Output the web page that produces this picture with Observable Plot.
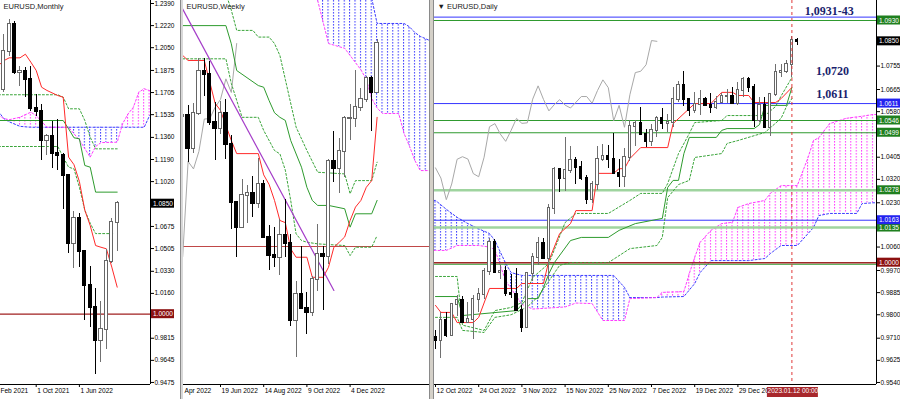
<!DOCTYPE html>
<html>
<head>
<meta charset="utf-8">
<script src="https://cdn.jsdelivr.net/npm/d3@7"></script>
<script src="https://cdn.jsdelivr.net/npm/@observablehq/plot@0.6"></script>
<style>
html,body{margin:0;padding:0;background:#fff;}
#chart{position:relative;width:900px;height:399px;overflow:hidden;background:#fff;}
.panel{position:absolute;top:0;height:399px;overflow:hidden;background:#fff;}
.sep{position:absolute;top:0;height:399px;box-sizing:border-box;}
</style>
</head>
<body>
<div id="chart"></div>
<script>
// ================= DATA =================
// ---- Monthly (index 0 = Apr 2021) : [open, high, low, close]
const monthlyOHLC = [
  [1.1728,1.2150,1.1704,1.2020],[1.2020,1.2266,1.1986,1.2228],[1.2228,1.2254,1.1847,1.1858],
  [1.1858,1.1909,1.1752,1.1870],[1.1870,1.1900,1.1664,1.1807],[1.1807,1.1909,1.1563,1.1579],
  [1.1579,1.1692,1.1524,1.1558],[1.1558,1.1616,1.1186,1.1338],[1.1338,1.1386,1.1222,1.1370],
  [1.1370,1.1483,1.1121,1.1234],[1.1234,1.1495,1.1106,1.1218],[1.1218,1.1233,1.0806,1.1067],
  [1.1067,1.1076,1.0470,1.0545],[1.0545,1.0787,1.0349,1.0733],[1.0733,1.0774,1.0359,1.0484],
  [1.0484,1.0486,0.9952,1.0220],[1.0220,1.0369,0.9901,1.0054],[1.0054,1.0198,0.9536,0.9801],
  [0.9801,1.0094,0.9632,0.9884],[0.9884,1.0497,0.9730,1.0405],[1.0405,1.0736,1.0393,1.0703],
  [1.0703,1.0868,1.0483,1.0850]
];
const monthlyTenkan = [[-1,1.1913],[0,1.1950],[1,1.1972],[3,1.1972],[4,1.2000],[5,1.1939],[6,1.1875],[7,1.1746],[8,1.1721],[10,1.1682],[11,1.1669],[12,1.1208],[13,1.1150],[14,1.1020],[15,1.0800],[16,1.0682],[17,1.0528],[18,1.0515],[19,1.0503],[20,1.0362],[21,1.0208]];
const monthlyKijun = [[-1,1.1490],[11,1.1490],[12,1.1426],[13,1.1357],[14,1.1349],[15,1.1144],[16,1.1131],[17,1.0939],[21,1.0939]];
const monthlyDotA = [[-1,1.1688],[10,1.1688],[11,1.1669],[12,1.1580],[14,1.1580],[15,1.1490],[16,1.1362],[17,1.1272],[21,1.1272]];
const monthlyDotB = [[-1,1.1290],[10,1.1290],[11,1.1208],[12,1.1131],[13,1.1118],[14,1.0977],[15,1.0800],[16,1.0700],[17,1.0620],[20.5,1.0620]];
// cloud: [index, spanA (blue), spanB (magenta)]
const monthlyKumo = [[-1,1.1560,1.1530],[0,1.1505,1.1505],[1,1.1480,1.1496],[3,1.1445,1.1515],[5,1.1438,1.1554],[6,1.1438,1.1528],[8,1.1438,1.1438],[12,1.1438,1.1438],[13,1.1438,1.1388],[14,1.1438,1.1340],[16,1.1438,1.1208],[17,1.1438,1.1290],[18,1.1438,1.1320],[21,1.1438,1.1323],[22,1.1438,1.1465],[23,1.1438,1.1540],[24,1.1438,1.1592],[25,1.1438,1.1708],[26,1.1438,1.1734],[27,1.1528,1.1720],[28,1.1550,1.1700]];
const monthlyLevels = [1.0000];
const monthlyLast = [1.0850];
const monthlyPriceTicks = [1.2390,1.2220,1.2050,1.1875,1.1705,1.1535,1.1360,1.1190,1.1020,1.0675,1.0505,1.0330,1.0160,0.9815,0.9645,0.9475];
const monthlyTimeTicks = [-2,6,14];
const monthlyTimeLabels = ["Feb 2021","1 Oct 2021","1 Jun 2022"];

// ---- Weekly (index 0 = week of 19 Jun 2022, first row = index -7)
const weeklyOHLC = [
  [1.0545,1.0642,1.0470,1.0550],[1.0550,1.0592,1.0350,1.0412],[1.0412,1.0600,1.0389,1.0559],
  [1.0559,1.0787,1.0550,1.0733],[1.0733,1.0787,1.0628,1.0719],[1.0719,1.0774,1.0505,1.0518],
  [1.0518,1.0601,1.0359,1.0495],[1.0495,1.0606,1.0470,1.0555],[1.0555,1.0615,1.0365,1.0427],
  [1.0427,1.0463,1.0072,1.0185],[1.0185,1.0187,0.9952,1.0081],[1.0081,1.0279,1.0078,1.0212],
  [1.0212,1.0254,1.0095,1.0220],[1.0220,1.0293,1.0123,1.0180],[1.0180,1.0369,1.0159,1.0260],
  [1.0260,1.0276,1.0034,1.0039],[1.0039,1.0090,0.9900,0.9964],[0.9964,1.0079,0.9910,0.9956],
  [0.9956,1.0113,0.9877,1.0044],[1.0044,1.0198,0.9956,1.0014],[1.0014,1.0050,0.9667,0.9690],
  [0.9690,0.9854,0.9536,0.9801],[0.9801,0.9999,0.9740,0.9740],[0.9740,0.9809,0.9632,0.9722],
  [0.9722,0.9875,0.9705,0.9860],[0.9860,1.0093,0.9810,0.9966],[0.9966,1.0000,0.9730,0.9958],
  [0.9958,1.0365,0.9926,1.0356],[1.0356,1.0481,1.0270,1.0325],[1.0325,1.0452,1.0223,1.0398],
  [1.0398,1.0545,1.0290,1.0534],[1.0534,1.0594,1.0443,1.0535],[1.0535,1.0736,1.0500,1.0583],
  [1.0583,1.0660,1.0565,1.0616],[1.0616,1.0713,1.0605,1.0702],[1.0702,1.0712,1.0483,1.0645],
  [1.0645,1.0868,1.0640,1.0850]
];
const weeklyFirstIndex = -7;
const weeklyTenkan = [[-7,1.0800],[-6,1.0779],[-3,1.0779],[-1,1.0600],[0,1.0570],[2,1.0444],[3,1.0389],[7,1.0389],[8,1.0300],[9,1.0260],[10,1.0193],[11,1.0109],[12,1.0100],[13,0.9990],[14,0.9955],[16,0.9955],[17,0.9871],[19,0.9871],[20,0.9913],[21,0.9997],[22,1.0018],[23,1.0040],[24,1.0109],[25,1.0165],[26,1.0193],[27,1.0248],[28,1.0276],[29,1.0541]];
const weeklyKijun = [[-7,1.0925],[1,1.0925],[2,1.0849],[3,1.0737],[7,1.0674],[8,1.0667],[9,1.0611],[10,1.0560],[11,1.0541],[12,1.0528],[13,1.0444],[15,1.0332],[16,1.0248],[17,1.0193],[18,1.0172],[20,1.0172],[23,1.0158],[24,1.0081],[25,1.0137],[28,1.0137],[29,1.0193]];
const weeklyDotA = [[1,1.1060],[2,1.0990],[3,1.0905],[6,1.0905],[7,1.0877],[9,1.0877],[10,1.0850],[11,1.0800],[12,1.0700],[14,1.0500],[16,1.0402],[18,1.0311],[23,1.0304],[24,1.0221],[25,1.0276],[28,1.0276],[29,1.0353]];
const weeklyDotB = [[-7,1.0786],[1,1.0786],[2,1.0683],[4,1.0541],[7,1.0541],[8,1.0486],[10,1.0402],[11,1.0388],[12,1.0320],[13,1.0193],[14,1.0053],[15,1.0025],[16,1.0018],[18,1.0011],[23,1.0004],[24,0.9962],[25,0.9997],[28,0.9997],[29,1.0046]];
const weeklyChikou = [0.9958,1.0356,1.0325,1.0398,1.0534,1.0535,1.0583,1.0616,1.0702,1.0645,1.0850];
const weeklyKumo = [[18,1.1150,1.1030],[20,1.1150,1.0850],[23,1.1150,1.0830],[25,1.1150,1.0770],[26,1.1150,1.0740],[27,1.1150,1.0700],[28,1.1040,1.0620],[29,1.0934,1.0580],[30,1.0934,1.0557],[33,1.0934,1.0557],[34,1.0934,1.0473],[35,1.0920,1.0420],[36,1.0896,1.0360],[37,1.0880,1.0318],[39,1.0860,1.0318]];
const weeklyTrend = [[-7,1.0994],[21,0.9816]];
const weeklyLevels = [1.0000];
const weeklyTimeTicks = [-8,0,8,16,24];
const weeklyTimeLabels = ["Apr 2022","19 Jun 2022","14 Aug 2022","9 Oct 2022","4 Dec 2022"];

// ---- Daily (index 0 = 12 Oct 2022, trading days)
const dailyOHLC = [
  [0.9712,0.9740,0.9668,0.9703],[0.9703,0.9809,0.9632,0.9778],[0.9778,0.9807,0.9711,0.9722],
  [0.9722,0.9843,0.9715,0.9838],[0.9838,0.9875,0.9792,0.9856],[0.9856,0.9872,0.9767,0.9771],
  [0.9771,0.9847,0.9770,0.9780],[0.9780,0.9873,0.9705,0.9860],[0.9860,0.9899,0.9810,0.9877],
  [0.9877,0.9977,0.9860,0.9965],[0.9965,1.0093,0.9950,1.0078],[1.0078,1.0089,0.9960,0.9963],
  [0.9963,0.9990,0.9935,0.9966],[0.9966,0.9984,0.9870,0.9883],[0.9883,0.9953,0.9862,0.9876],
  [0.9876,0.9976,0.9815,0.9818],[0.9818,0.9837,0.9730,0.9750],[0.9750,0.9960,0.9747,0.9958],
  [0.9958,1.0034,0.9926,1.0020],[1.0020,1.0096,0.9990,1.0074],[1.0074,1.0094,1.0015,1.0015],
  [1.0015,1.0222,0.9935,1.0208],[1.0208,1.0365,1.0186,1.0356],[1.0356,1.0362,1.0270,1.0325],
  [1.0325,1.0481,1.0273,1.0354],[1.0354,1.0447,1.0341,1.0393],[1.0393,1.0405,1.0300,1.0364],
  [1.0364,1.0390,1.0315,1.0325],[1.0325,1.0333,1.0223,1.0242],[1.0242,1.0310,1.0226,1.0302],
  [1.0302,1.0448,1.0279,1.0397],[1.0397,1.0452,1.0388,1.0407],[1.0407,1.0449,1.0360,1.0398],
  [1.0398,1.0497,1.0340,1.0342],[1.0342,1.0398,1.0290,1.0330],[1.0330,1.0440,1.0290,1.0405],
  [1.0405,1.0545,1.0390,1.0522],[1.0522,1.0545,1.0445,1.0534],[1.0534,1.0594,1.0491,1.0494],
  [1.0494,1.0510,1.0443,1.0466],[1.0466,1.0530,1.0448,1.0508],[1.0508,1.0563,1.0480,1.0554],
  [1.0554,1.0591,1.0513,1.0535],[1.0535,1.0568,1.0500,1.0537],[1.0537,1.0673,1.0520,1.0628],
  [1.0628,1.0694,1.0616,1.0679],[1.0679,1.0736,1.0600,1.0627],[1.0627,1.0630,1.0560,1.0583],
  [1.0583,1.0655,1.0574,1.0607],[1.0607,1.0660,1.0565,1.0626],[1.0626,1.0634,1.0600,1.0605],
  [1.0605,1.0650,1.0573,1.0594],[1.0594,1.0638,1.0587,1.0616],[1.0616,1.0648,1.0613,1.0638],
  [1.0638,1.0666,1.0613,1.0638],[1.0638,1.0673,1.0610,1.0612],[1.0612,1.0690,1.0605,1.0661],
  [1.0661,1.0713,1.0633,1.0702],[1.0702,1.0712,1.0652,1.0672],[1.0672,1.0685,1.0519,1.0545],
  [1.0545,1.0633,1.0540,1.0604],[1.0604,1.0636,1.0524,1.0520],[1.0520,1.0650,1.0483,1.0645],
  [1.0645,1.0760,1.0640,1.0730],[1.0730,1.0760,1.0711,1.0735],[1.0735,1.0777,1.0727,1.0760],
  [1.0760,1.0868,1.0711,1.0853],[1.0853,1.0860,1.0835,1.0850]
];
const dailyTenkan = [[0,0.9836],[1,0.9809],[3,0.9809],[4,0.9770],[7,0.9770],[8,0.9790],[10,0.9901],[15,0.9901],[16,0.9920],[20,0.9920],[21,1.0008],[23,1.0112],[25,1.0150],[26,1.0200],[29,1.0200],[30,1.0343],[33,1.0343],[34,1.0361],[35,1.0361],[36,1.0400],[38,1.0442],[43,1.0442],[44,1.0534],[47,1.0592],[48,1.0611],[51,1.0611],[53,1.0654],[55,1.0654],[56,1.0642],[58,1.0642],[59,1.0615],[63,1.0615],[64,1.0630],[66,1.0673]];
const dailyKijun = [[0,0.9870],[4,0.9870],[5,0.9797],[15,0.9816],[17,0.9862],[19,0.9862],[20,0.9905],[21,0.9958],[22,1.0000],[25,1.0085],[27,1.0097],[32,1.0097],[34,1.0124],[37,1.0150],[41,1.0166],[42,1.0170],[43,1.0289],[44,1.0316],[45,1.0316],[46,1.0419],[47,1.0481],[52,1.0481],[53,1.0508],[54,1.0515],[59,1.0515],[60,1.0530],[61,1.0604],[65,1.0604],[66,1.0673]];
const dailyDotA = [[0,0.9947],[4,0.9947],[5,0.9760],[9,0.9740],[11,0.9816],[14,0.9828],[16,0.9847],[18,0.9943],[21,0.9997],[24,1.0154],[26,1.0189],[32,1.0189],[36,1.0239],[38,1.0266],[42,1.0266],[43,1.0304],[45,1.0419],[47,1.0496],[48,1.0538],[53,1.0546],[54,1.0565],[61,1.0565],[63,1.0600],[64,1.0640],[66,1.0711]];
const dailyDotB = [[0,0.9790],[4,0.9790],[5,0.9740],[9,0.9732],[11,0.9790],[14,0.9800],[17,0.9830],[19,0.9870],[21,0.9930],[23,0.9990],[25,1.0000],[32,1.0000],[36,1.0054],[41,1.0066],[42,1.0097],[43,1.0250],[45,1.0300],[47,1.0316],[48,1.0404],[53,1.0419],[54,1.0458],[56,1.0469],[61,1.0500],[64,1.0554],[65,1.0600],[66,1.0630]];
const dailyChikou = [1.0364,1.0325,1.0242,1.0302,1.0397,1.0407,1.0398,1.0342,1.0330,1.0405,1.0522,1.0534,1.0494,1.0466,1.0508,1.0554,1.0535,1.0537,1.0628,1.0679,1.0627,1.0583,1.0607,1.0626,1.0605,1.0594,1.0616,1.0638,1.0638,1.0612,1.0661,1.0702,1.0672,1.0545,1.0604,1.0520,1.0645,1.0730,1.0735,1.0760,1.0853,1.0850];
const dailyKumo = [[-1,1.0239,1.0047],[0,1.0239,1.0047],[2,1.0205,1.0047],[4,1.0174,1.0066],[6,1.0150,1.0066],[8,1.0130,1.0066],[10,1.0112,1.0060],[11,1.0085,1.0050],[13,0.9997,0.9930],[14,0.9962,0.9901],[16,0.9951,0.9840],[18,0.9951,0.9822],[24,0.9951,0.9830],[26,0.9951,0.9845],[29,0.9951,0.9843],[31,0.9951,0.9778],[33,0.9951,0.9778],[35,0.9905,0.9778],[36,0.9866,0.9862],[41,0.9866,0.9866],[42,0.9868,0.9886],[46,0.9870,0.9889],[47,0.9895,0.9958],[48,0.9920,1.0020],[49,0.9962,1.0078],[51,1.0008,1.0124],[53,1.0008,1.0150],[55,1.0008,1.0155],[56,1.0008,1.0212],[58,1.0008,1.0227],[61,1.0016,1.0239],[62,1.0035,1.0266],[64,1.0066,1.0296],[67,1.0066,1.0296],[69,1.0112,1.0404],[70,1.0135,1.0469],[71,1.0181,1.0480],[73,1.0189,1.0534],[76,1.0189,1.0554],[78,1.0189,1.0560],[79,1.0227,1.0562],[81,1.0230,1.0569],[82,1.0230,1.0569]];
const dailyBlueLevels = [1.0943, 1.0611, 1.0163];
const dailyGreenLevels = [1.0930, 1.0546, 1.0499, 0.9994];
const dailyLightGreenLevels = [1.0278, 1.0135];
const dailyRedLevels = [1.0000];
const dailyBlueBoxes = [1.0611, 1.0163];
const dailyGreenBoxes = [1.0930, 1.0546, 1.0499, 1.0278, 1.0135];
const dailyLast = [1.0850];
const dailyPriceTicks = [1.0755,1.0665,1.0580,1.0405,1.0320,1.0230,1.0060,0.9970,0.9885,0.9800,0.9710,0.9625,0.9540];
const dailyTimeTicks = [0,8,16,24,32,40,48,56];
const dailyTimeLabels = ["12 Oct 2022","24 Oct 2022","3 Nov 2022","15 Nov 2022","25 Nov 2022","7 Dec 2022","19 Dec 2022","29 Dec 20"];
const dailyCursor = [66];
const dailyCursorLabel = "2023.01.12 00:00";
const dailyNotes = ["1,0931-43", "1,0720", "1,0611"];
const dailyNoteLevels = [1.0937, 1.0720, 1.0611];

// ================= RENDERING =================
const FONT = "'Liberation Sans', Arial, Helvetica, sans-serif";
const fmt4 = d3.format(".4f");
const svgNS = "http://www.w3.org/2000/svg";
const root = document.getElementById("chart");

// hatch patterns for the Ichimoku cloud (vertical dotted lines)
const defsSvg = document.createElementNS(svgNS, "svg");
defsSvg.setAttribute("width", "0"); defsSvg.setAttribute("height", "0");
defsSvg.style.position = "absolute";
const defs = document.createElementNS(svgNS, "defs");
defsSvg.appendChild(defs);
document.body.appendChild(defsSvg);
function addHatch(id, color, x0) {
  const p = document.createElementNS(svgNS, "pattern");
  p.setAttribute("id", id);
  p.setAttribute("patternUnits", "userSpaceOnUse");
  p.setAttribute("x", x0); p.setAttribute("y", 0);
  p.setAttribute("width", 5.4); p.setAttribute("height", 3);
  const r = document.createElementNS(svgNS, "rect");
  r.setAttribute("x", 0); r.setAttribute("y", 0);
  r.setAttribute("width", 1); r.setAttribute("height", 1.6);
  r.setAttribute("fill", color);
  p.appendChild(r); defs.appendChild(p);
}
const BLUE = "#3c3cff", MAG = "#ff3cff";
addHatch("hbM", BLUE, 2.8); addHatch("hmM", MAG, 2.8);
addHatch("hbW", BLUE, 4.1); addHatch("hmW", MAG, 4.1);
addHatch("hbD", BLUE, 0.5); addHatch("hmD", MAG, 0.5);

function rows(ohlc, start) {
  return ohlc.map((r, k) => ({t: start + k, o: r[0], h: r[1], l: r[2], c: r[3]}));
}
function candleMarks(data, half) {
  const up = d => d.c >= d.o, dn = d => d.c < d.o;
  return [
    Plot.ruleX(data, {filter: up, x: "t", y1: "l", y2: "h", stroke: "#707070", strokeWidth: 1, shapeRendering: "crispEdges"}),
    Plot.ruleX(data, {filter: dn, x: "t", y1: "l", y2: "h", stroke: "#000", strokeWidth: 1, shapeRendering: "crispEdges"}),
    Plot.rect(data, {filter: up, x1: d => d.t - half, x2: d => d.t + half, y1: "o", y2: "c", insetTop: -0.5, insetBottom: -0.5, fill: "#fff", stroke: "#666", strokeWidth: 1, shapeRendering: "crispEdges"}),
    Plot.rect(data, {filter: dn, x1: d => d.t - half, x2: d => d.t + half, y1: "o", y2: "c", insetTop: -0.5, insetBottom: -0.5, fill: "#000", stroke: "#000", strokeWidth: 1, shapeRendering: "crispEdges"})
  ];
}
const P0 = d => d[0], P1 = d => d[1];
function lineMark(pts, stroke, opts = {}) {
  return Plot.line(pts, {x: P0, y: P1, stroke, strokeWidth: 1, clip: true, ...opts});
}
function kumoMarks(kumo, hb, hm) {
  return [
    Plot.areaY(kumo, {x: P0, y1: d => d[2], y2: d => Math.max(d[1], d[2]), fill: `url(#${hb})`, clip: true}),
    Plot.areaY(kumo, {x: P0, y1: d => d[1], y2: d => Math.max(d[1], d[2]), fill: `url(#${hm})`, clip: true}),
    Plot.line(kumo, {x: P0, y: d => d[1], stroke: BLUE, strokeDasharray: "2,2", strokeWidth: 1, clip: true}),
    Plot.line(kumo, {x: P0, y: d => d[2], stroke: MAG, strokeDasharray: "2,2", strokeWidth: 1, clip: true})
  ];
}
function timeLabelMark(ticks, labels, xmin) {
  return Plot.text(ticks.map((t, k) => [t, labels[k]]), {x: d => Math.max(d[0], xmin), text: P1, frameAnchor: "bottom", dy: 8, dx: 1, textAnchor: "start", fill: "#000", fontSize: 6.6});
}
function boxMarks(values, color, xEdge, pxX, pxY) {
  return [
    Plot.rect(values, {x1: xEdge + 1 / pxX, x2: xEdge + 24 / pxX, y1: d => d - 4.5 / pxY, y2: d => d + 4.5 / pxY, fill: color}),
    Plot.text(values, {y: d => d, text: d => fmt4(d), frameAnchor: "right", textAnchor: "start", dx: 2.5, fill: "#fff", fontSize: 6.5})
  ];
}
function titleMark(t) {
  return Plot.text([t], {text: d => d, frameAnchor: "top-left", dx: 3, dy: 3, lineAnchor: "top", textAnchor: "start", fill: "#1a1a1a", fontSize: 7.5});
}
function addPanel(left, width, mr, xDomain, yDomain, xTicks, yTicks, marks) {
  const div = document.createElement("div");
  div.className = "panel";
  div.style.left = left + "px";
  div.style.width = width + "px";
  const plot = Plot.plot({
    width, height: 399,
    marginTop: 0, marginBottom: 15, marginLeft: 0, marginRight: mr,
    style: {fontFamily: FONT, fontSize: "6.5px", background: "transparent", color: "#000", overflow: "hidden"},
    x: {domain: xDomain, ticks: xTicks, tickFormat: () => "", tickSize: 3, label: null},
    y: yTicks ? {domain: yDomain, axis: "right", ticks: yTicks, tickFormat: fmt4, tickSize: 3, tickPadding: 1, label: null}
              : {domain: yDomain, axis: null, label: null},
    marks
  });
  div.appendChild(plot);
  root.appendChild(div);
}

// ---------- Monthly panel ----------
{
  const xD = [-0.611, 27.167], yD = [0.94592, 1.24131];
  addPanel(0, 180, 30, xD, yD, monthlyTimeTicks, monthlyPriceTicks, [
    ...kumoMarks(monthlyKumo, "hbM", "hmM"),
    Plot.ruleY(monthlyLevels, {stroke: "#a02020", strokeWidth: 1.2}),
    lineMark(monthlyDotA, "#3aa53a", {strokeDasharray: "2,2"}),
    lineMark(monthlyDotB, "#3aa53a", {strokeDasharray: "2,2"}),
    lineMark(monthlyKijun, "#2e9b2e"),
    lineMark(monthlyTenkan, "#ff2a2a"),
    ...candleMarks(rows(monthlyOHLC, 0), 0.3),
    Plot.ruleY([yD[0]], {stroke: "#000"}),
    Plot.ruleX([xD[1]], {stroke: "#000"}),
    ...boxMarks(monthlyLast, "#000", xD[1], 5.4, 1300),
    ...boxMarks(monthlyLevels, "#8b1010", xD[1], 5.4, 1300),
    timeLabelMark(monthlyTimeTicks, monthlyTimeLabels, xD[0] - 0.2),
    titleMark("EURUSD,Monthly")
  ]);
}

// ---------- Weekly panel ----------
{
  const xD = [-6.852, 38.704], yD = [0.94221, 1.10302];
  addPanel(183, 246, 0, xD, yD, weeklyTimeTicks, null, [
    ...kumoMarks(weeklyKumo, "hbW", "hmW"),
    Plot.ruleY(weeklyLevels, {stroke: "#c04848", strokeWidth: 1}),
    Plot.line(weeklyChikou.map((v, k) => [weeklyFirstIndex + k, v]), {x: P0, y: P1, stroke: "#a8a8a8", strokeWidth: 1, clip: true}),
    lineMark(weeklyDotA, "#3aa53a", {strokeDasharray: "2,2"}),
    lineMark(weeklyDotB, "#3aa53a", {strokeDasharray: "2,2"}),
    lineMark(weeklyKijun, "#2e9b2e"),
    lineMark(weeklyTenkan, "#ff2a2a"),
    lineMark(weeklyTrend, "#a43cc8", {strokeWidth: 1.2}),
    ...candleMarks(rows(weeklyOHLC, weeklyFirstIndex), 0.3),
    Plot.ruleY([yD[0]], {stroke: "#000"}),
    timeLabelMark(weeklyTimeTicks, weeklyTimeLabels, xD[0]),
    titleMark("EURUSD,Weekly")
  ]);
}

// ---------- Daily panel ----------
{
  const xD = [-0.185, 81.667], yD = [0.95322, 1.10068];
  const noteStyle = {fill: "#1b1f6e", fontSize: 12, fontWeight: "bold", fontFamily: "'Liberation Serif', 'Times New Roman', serif", textAnchor: "middle"};
  addPanel(434, 466, 24, xD, yD, dailyTimeTicks, dailyPriceTicks, [
    ...kumoMarks(dailyKumo, "hbD", "hmD"),
    Plot.ruleY(dailyLightGreenLevels, {stroke: "#9fd49f", strokeWidth: 2.5}),
    Plot.ruleY(dailyGreenLevels, {stroke: "#2f9a2f", strokeWidth: 1.2}),
    Plot.ruleY(dailyBlueLevels, {stroke: "#3535ff", strokeWidth: 1}),
    Plot.ruleY(dailyRedLevels, {stroke: "#a02828", strokeWidth: 1.4}),
    Plot.line(dailyChikou.map((v, k) => [k, v]), {x: P0, y: P1, stroke: "#a8a8a8", strokeWidth: 1, clip: true}),
    lineMark(dailyDotA, "#3aa53a", {strokeDasharray: "2,2"}),
    lineMark(dailyDotB, "#3aa53a", {strokeDasharray: "2,2"}),
    lineMark(dailyKijun, "#2e9b2e"),
    lineMark(dailyTenkan, "#ff2a2a"),
    ...candleMarks(rows(dailyOHLC, 0), 0.22),
    Plot.ruleX(dailyCursor, {x: d => d, stroke: "#e03a3a", strokeDasharray: "3,3", strokeWidth: 1}),
    Plot.text([dailyNotes[0]], {x: 72.9, y: dailyNoteLevels[0], text: d => d, dy: -8, ...noteStyle}),
    Plot.text([dailyNotes[1]], {x: 73.5, y: dailyNoteLevels[1], text: d => d, dy: -4, ...noteStyle}),
    Plot.text([dailyNotes[2]], {x: 73.5, y: dailyNoteLevels[2], text: d => d, dy: -9, ...noteStyle}),
    Plot.ruleY([yD[0]], {stroke: "#000"}),
    Plot.ruleX([xD[1]], {stroke: "#000"}),
    ...boxMarks(dailyGreenBoxes, "#1f801f", xD[1], 5.4, 2604),
    ...boxMarks(dailyBlueBoxes, "#2323f0", xD[1], 5.4, 2604),
    ...boxMarks(dailyLast, "#000", xD[1], 5.4, 2604),
    ...boxMarks(dailyRedLevels, "#8b1010", xD[1], 5.4, 2604),
    timeLabelMark(dailyTimeTicks, dailyTimeLabels, xD[0]),
    Plot.rect(dailyCursor, {x1: d => d - 24.5 / 5.4, x2: d => d + 26.5 / 5.4, y1: yD[0] - 3 / 2604, y2: yD[0] - 13 / 2604, fill: "#a8282c"}),
    Plot.text(dailyCursor, {x: d => d, text: () => dailyCursorLabel, frameAnchor: "bottom", dy: 8, dx: 1, fill: "#fff", fontSize: 6.5}),
    titleMark("\u25BC EURUSD,Daily")
  ]);
}

// window separators
function sep(left, width, style) {
  const d = document.createElement("div");
  d.className = "sep";
  d.style.left = left + "px"; d.style.width = width + "px";
  Object.assign(d.style, style);
  root.appendChild(d);
}
sep(180, 3, {background: "#d8d8d8", borderLeft: "1px solid #8a8a8a"});
sep(429, 5, {background: "#d4d0c8", borderLeft: "1px solid #8a8a8a", borderRight: "1px solid #8a8a8a"});
</script>
</body>
</html>
